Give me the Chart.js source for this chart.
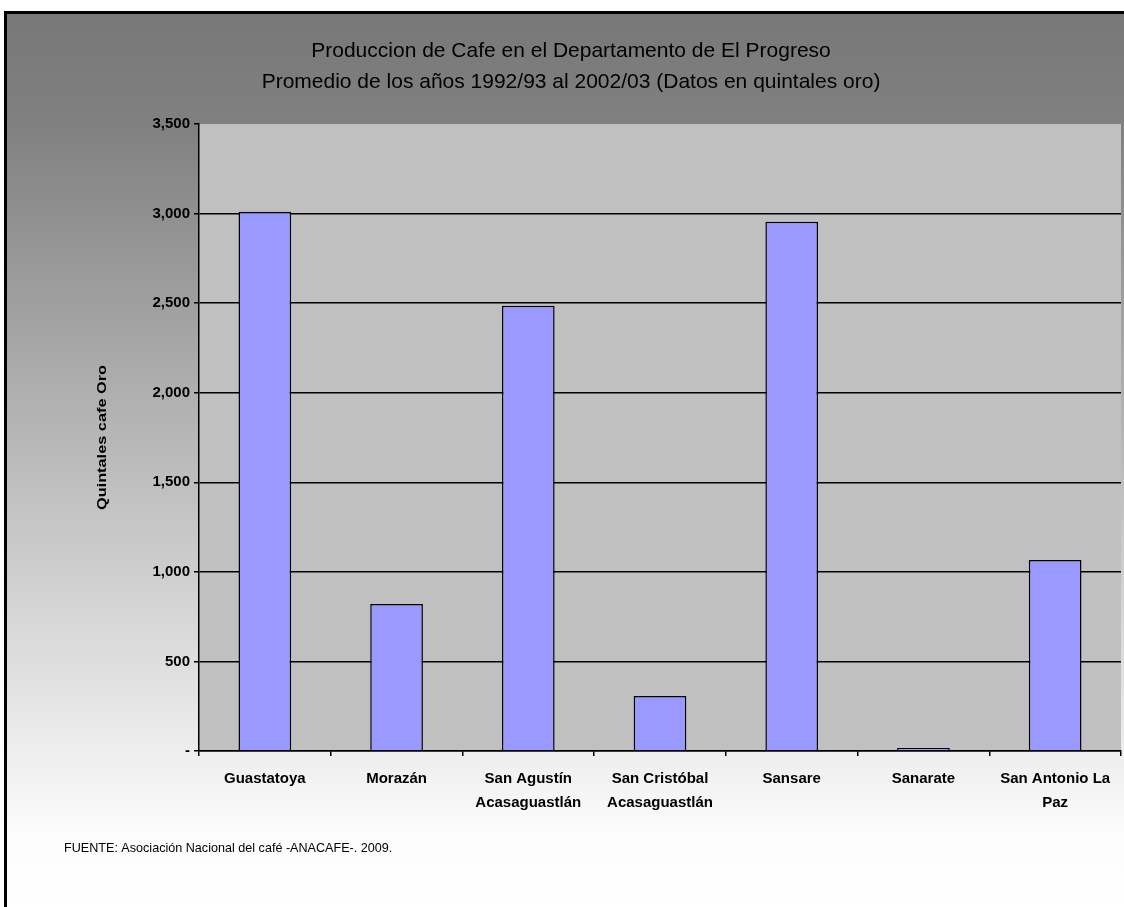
<!DOCTYPE html>
<html><head><meta charset="utf-8">
<script src="https://cdn.jsdelivr.net/npm/chart.js@4"></script>
<style>
html,body{margin:0;padding:0;background:#fff;width:1124px;height:907px;overflow:hidden;}
#frame{position:absolute;left:4px;top:11px;width:1117px;height:893px;border-left:3px solid #000;border-top:3px solid #000;}
canvas{display:block;}
</style></head><body>
<div id="frame"><canvas id="c" width="1117" height="893"></canvas></div>
<script>
const categories = [['Guastatoya'],['Morazán'],['San Agustín','Acasaguastlán'],['San Cristóbal','Acasaguastlán'],['Sansare'],['Sanarate'],['San Antonio La','Paz']];
const production = [3010, 820, 2485, 307, 2954, 17, 1066];
const yTickValues = [0,500,1000,1500,2000,2500,3000,3500];
const yTickLabels = ['-','500','1,000','1,500','2,000','2,500','3,000','3,500'];
const titleLines = ['Produccion de Cafe en el Departamento de El Progreso','Promedio de los años 1992/93 al 2002/03 (Datos en quintales oro)'];
const yAxisTitle = 'Quintales cafe Oro';
const sourceNote = 'FUENTE: Asociación Nacional del café -ANACAFE-. 2009.';

Chart.defaults.font.family = "'Liberation Sans', Arial, sans-serif";
Chart.defaults.color = '#000';

const decor = {
  id: 'decor',
  beforeDraw(chart) {
    const {ctx, chartArea: a, width, height} = chart;
    ctx.save();
    const g = ctx.createLinearGradient(0, 0, 0, height);
    g.addColorStop(0, '#787878');
    g.addColorStop(110/height, '#808080');
    g.addColorStop(820/height, '#fcfcfc');
    g.addColorStop(1, '#ffffff');
    ctx.fillStyle = g;
    ctx.fillRect(0, 0, width, height);
    ctx.fillStyle = '#c0c0c0';
    ctx.fillRect(a.left, a.top, a.right - a.left, a.bottom - a.top);
    ctx.restore();
  },
  afterDraw(chart) {
    const {ctx, chartArea: a} = chart;
    ctx.save();
    ctx.fillStyle = '#000';
    ctx.textAlign = 'center';
    ctx.textBaseline = 'middle';
    ctx.font = "21px 'Liberation Sans', Arial, sans-serif";
    ctx.fillText(titleLines[0], 564, 37);
    ctx.fillText(titleLines[1], 564, 68);
    // y-axis title
    ctx.save();
    ctx.translate(96, (a.top + a.bottom) / 2);
    ctx.rotate(-Math.PI / 2);
    ctx.scale(1.36, 1);
    ctx.font = "bold 12px 'Liberation Sans', Arial, sans-serif";
    ctx.fillText(yAxisTitle, 0, 0);
    ctx.restore();
    // source note
    ctx.textAlign = 'left';
    ctx.font = "12.6px 'Liberation Sans', Arial, sans-serif";
    ctx.fillText(sourceNote, 57, 835);
    ctx.restore();
  }
};

new Chart(document.getElementById('c'), {
  type: 'bar',
  data: {
    labels: categories,
    datasets: [{
      data: production,
      backgroundColor: '#9999ff',
      borderColor: '#000',
      borderWidth: 1.5,
      barPercentage: 0.4,
      categoryPercentage: 1.0
    }]
  },
  options: {
    responsive: false,
    devicePixelRatio: 1,
    animation: false,
    layout: { padding: { top: 110, left: 0, right: 3, bottom: 76 } },
    plugins: { legend: { display: false }, tooltip: { enabled: false }, title: { display: false } },
    scales: {
      x: {
        grid: { offset: true, drawOnChartArea: false, drawTicks: true, tickLength: 5, color: '#000', lineWidth: 1.5 },
        border: { display: true, color: '#000', width: 1.5 },
        ticks: { font: { size: 15, weight: 'bold', lineHeight: 1.6 }, color: '#000', maxRotation: 0, minRotation: 0, autoSkip: false, padding: 11 },
        afterFit(s) { s.height = 80; }
      },
      y: {
        min: 0, max: 3500,
        afterBuildTicks(s) { s.ticks = yTickValues.map(v => ({ value: v })); },
        grid: {
          color: c => (c.tick && c.tick.value === 3500) ? 'rgba(0,0,0,0)' : '#000',
          tickColor: '#000', tickLength: 5, lineWidth: 1.5
        },
        border: { display: true, color: '#000', width: 1.5 },
        ticks: {
          font: { size: 15, weight: 'bold' }, color: '#000', padding: 4,
          callback: v => yTickLabels[yTickValues.indexOf(v)]
        },
        afterFit(s) { s.width = 192; }
      }
    }
  },
  plugins: [decor]
});
</script>
</body></html>
